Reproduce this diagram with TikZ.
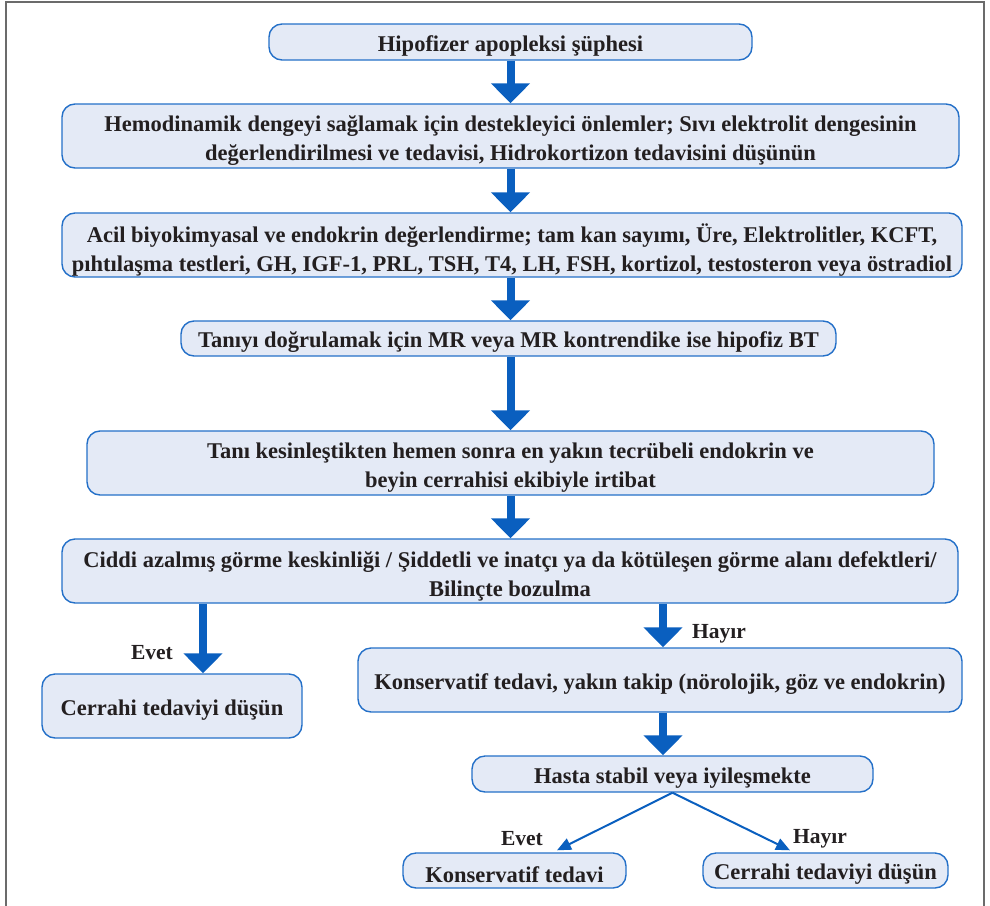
\documentclass[tikz,border=0pt]{standalone}
\usepackage{fontspec}
\setmainfont{Liberation Serif}
\usetikzlibrary{arrows.meta}
\definecolor{boxfill}{HTML}{E4EAF6}
\definecolor{boxline}{HTML}{2470C8}
\definecolor{arrowblue}{HTML}{0A5FBF}
\definecolor{txt}{HTML}{231F20}
\definecolor{framegray}{HTML}{6B6B6B}
\begin{document}
\begin{tikzpicture}[x=1pt,y=-1pt,
  flowbox/.style={draw=boxline, line width=1.4pt, fill=boxfill, rounded corners=13pt, inner sep=0pt},
  btxt/.style={align=center, text=txt, inner sep=0pt, font=\bfseries\fontsize{22.5}{29}\selectfont},
  one/.style={label={[btxt,yshift=-4pt]center:{#1}}},
  two/.style={label={[btxt,yshift=-5pt]center:{#1}}},
  bigarrow/.style={draw=arrowblue, line width=8pt, -{Triangle[width=38pt,length=20pt]}},
  thinarrow/.style={draw=arrowblue, line width=2pt, -{Triangle[width=12pt,length=14pt]}},
  lbl/.style={text=txt, font=\bfseries\fontsize{21.5}{24}\selectfont, inner sep=0pt}]
\useasboundingbox (0,0) rectangle (990,905);
\draw[framegray, line width=2pt] (6,906) -- (6,2) -- (984,2) -- (984,906);

\node[flowbox, minimum width=483pt, minimum height=36pt, one={Hipofizer apopleksi şüphesi}] (b1) at (510.5,42) {};
\node[flowbox, minimum width=897pt, minimum height=64pt, two={Hemodinamik dengeyi sağlamak için destekleyici önlemler; Sıvı elektrolit dengesinin\\değerlendirilmesi ve tedavisi, Hidrokortizon tedavisini düşünün}] (b2) at (510.5,136) {};
\node[flowbox, minimum width=900pt, minimum height=64pt, two={Acil biyokimyasal ve endokrin değerlendirme; tam kan sayımı, Üre, Elektrolitler, KCFT,\\pıhtılaşma testleri, GH, IGF-1, PRL, TSH, T4, LH, FSH, kortizol, testosteron veya östradiol}] (b3) at (512,245) {};
\node[flowbox, minimum width=655pt, minimum height=35pt, one={Tanıyı doğrulamak için MR veya MR kontrendike ise hipofiz BT}] (b4) at (508.5,338.5) {};
\node[flowbox, minimum width=847pt, minimum height=64pt, two={Tanı kesinleştikten hemen sonra en yakın tecrübeli endokrin ve\\beyin cerrahisi ekibiyle irtibat}] (b5) at (510.5,463) {};
\node[flowbox, minimum width=896pt, minimum height=64pt, two={Ciddi azalmış görme keskinliği / Şiddetli ve inatçı ya da kötüleşen görme alanı defektleri/\\Bilinçte bozulma}] (b6) at (510,571) {};
\node[flowbox, minimum width=260pt, minimum height=64pt, one={Cerrahi tedaviyi düşün}] (b7) at (172,706) {};
\node[flowbox, minimum width=604pt, minimum height=64pt, one={Konservatif tedavi, yakın takip (nörolojik, göz ve endokrin)}] (b8) at (660,680) {};
\node[flowbox, minimum width=401pt, minimum height=36pt, one={Hasta stabil veya iyileşmekte}] (b9) at (672.5,774) {};
\node[flowbox, minimum width=223pt, minimum height=35pt, one={Konservatif tedavi}] (b10) at (514.5,870.5) {};
\node[flowbox, minimum width=245pt, minimum height=35pt, one={Cerrahi tedaviyi düşün}] (b11) at (825.5,870.5) {};

\draw[bigarrow] (b1.south) -- (b1.south |- b2.north);
\draw[bigarrow] (b2.south) -- (b2.south |- b3.north);
\draw[bigarrow] (b3.south -| b2.south) -- (b2.south |- b4.north);
\draw[bigarrow] (b4.south -| b2.south) -- (b2.south |- b5.north);
\draw[bigarrow] (b5.south) -- (b5.south |- b6.north);
\draw[bigarrow] ([xshift=-307pt]b6.south) -- ([xshift=31pt]b7.north);
\draw[bigarrow] ([xshift=153pt]b6.south) -- ([xshift=3pt]b8.north);
\draw[bigarrow] ([xshift=3pt]b8.south) -- ([xshift=-9.5pt]b9.north);
\draw[thinarrow] (b9.south) -- ([xshift=42.5pt,yshift=2pt]b10.north);
\draw[thinarrow] (b9.south) -- ([xshift=-35.5pt,yshift=2pt]b11.north);

\node[lbl] (l1) at (152,653) {Evet};
\node[lbl] (l2) at (719,634) {Hayır};
\node[lbl] (l3) at (522,839) {Evet};
\node[lbl] (l4) at (820,839) {Hayır};
\end{tikzpicture}
\end{document}
